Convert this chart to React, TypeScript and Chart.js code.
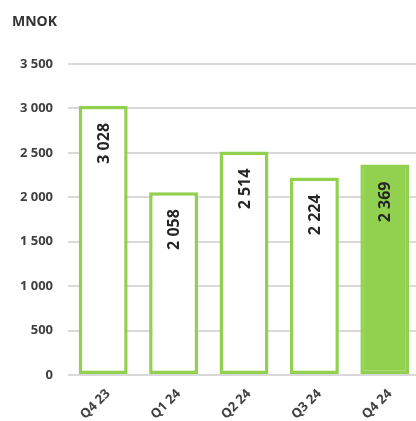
import React, { useEffect, useRef } from 'react';
import { Chart, registerables } from 'chart.js';

Chart.register(...registerables);

const categories = ['Q4 23', 'Q1 24', 'Q2 24', 'Q3 24', 'Q4 24'];
const values = [3028, 2058, 2514, 2224, 2369];
const fillColors = ['#ffffff', '#ffffff', '#ffffff', '#ffffff', '#92d050'];
const unitLabel = 'MNOK';
const yMax = 3500;
const yStep = 500;

const GREEN = '#92d050';
const FONT = '"Open Sans", "DejaVu Sans", sans-serif';

const fmt = (v: number) => String(v).replace(/\B(?=(\d{3})+(?!\d))/g, ' ');

const unitPlugin = {
  id: 'unitLabel',
  afterDraw(chart: any) {
    const ctx = chart.ctx;
    ctx.save();
    ctx.font = `bold 14px ${FONT}`;
    ctx.fillStyle = '#333333';
    ctx.textAlign = 'left';
    ctx.textBaseline = 'middle';
    ctx.fillText(unitLabel, 12, 22);
    ctx.restore();
  },
};

const valueLabelPlugin = {
  id: 'valueLabels',
  afterDatasetsDraw(chart: any) {
    const ctx = chart.ctx;
    const meta = chart.getDatasetMeta(0);
    ctx.save();
    ctx.font = `bold 16px ${FONT}`;
    ctx.fillStyle = '#262626';
    ctx.textAlign = 'right';
    ctx.textBaseline = 'middle';
    meta.data.forEach((bar: any, i: number) => {
      ctx.save();
      ctx.translate(bar.x + 1, bar.y + 17);
      ctx.rotate(-Math.PI / 2);
      ctx.fillText(fmt(values[i]), 0, 0);
      ctx.restore();
    });
    ctx.restore();
  },
};

export default function App() {
  const ref = useRef<HTMLCanvasElement | null>(null);

  useEffect(() => {
    if (!ref.current) return;
    const chart = new Chart(ref.current, {
      type: 'bar',
      data: {
        labels: categories,
        datasets: [
          {
            data: values,
            backgroundColor: fillColors,
            borderColor: GREEN,
            borderWidth: 3.5,
            borderSkipped: false,
            categoryPercentage: 1,
            barPercentage: 0.695,
          },
        ],
      },
      options: {
        animation: false,
        responsive: false,
        layout: { padding: { left: 8, top: 64, right: 1, bottom: 0 } },
        plugins: {
          legend: { display: false },
          tooltip: { enabled: false },
          title: { display: false },
        },
        scales: {
          x: {
            grid: { display: false },
            border: { display: false },
            ticks: {
              minRotation: 45,
              maxRotation: 45,
              padding: 3,
              labelOffset: 5,
              color: '#404040',
              font: { family: FONT, size: 13, weight: 'bold' },
            },
            afterFit: (s: any) => {
              s.height = 46;
            },
          },
          y: {
            min: 0,
            max: yMax,
            grid: { color: '#d9d9d9', lineWidth: 2, drawTicks: false },
            border: { display: false },
            ticks: {
              stepSize: yStep,
              padding: 15,
              color: '#404040',
              font: { family: FONT, size: 13, weight: 'bold' },
              callback: (v: any) => fmt(Number(v)),
            },
            afterFit: (s: any) => {
              s.width = 60;
            },
          },
        },
      },
      plugins: [unitPlugin, valueLabelPlugin],
    } as any);
    return () => chart.destroy();
  }, []);

  return (
    <div
      style={{
        position: 'fixed',
        left: 0,
        top: 0,
        width: 416,
        height: 421,
        overflow: 'hidden',
        background: '#ffffff',
      }}
    >
      <canvas ref={ref} width={421} height={421} style={{ display: 'block' }} />
    </div>
  );
}
